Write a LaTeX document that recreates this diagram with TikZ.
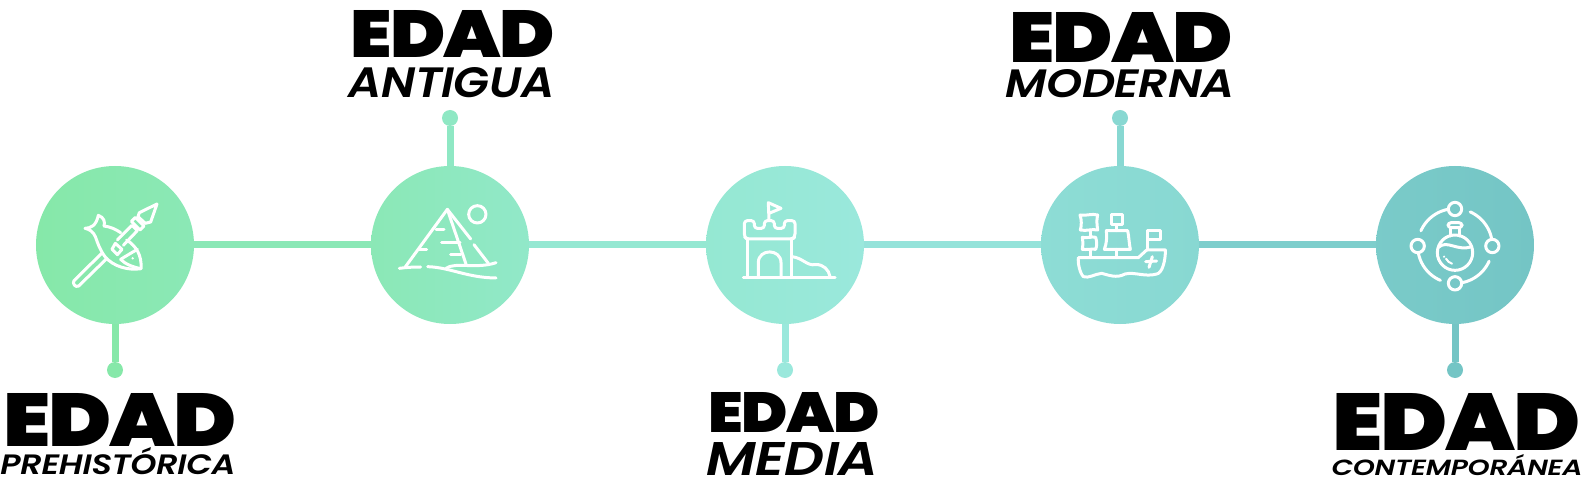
\documentclass[tikz,border=0pt]{standalone}
\usepackage{fontspec}
\usepackage{graphicx}
\setmainfont{Poppins}
\newfontfamily\edadfont{Poppins}[UprightFont=* Black,LetterSpace=-2.5]
\newfontfamily\subfont{Poppins}[UprightFont=* SemiBold Italic,LetterSpace=-1]
\definecolor{ca}{HTML}{86E8A9}\definecolor{cab}{HTML}{8BE8B6}
\definecolor{cb}{HTML}{8FE8C4}\definecolor{cbc}{HTML}{95E8D2}
\definecolor{cc}{HTML}{9AE8DC}\definecolor{ccd}{HTML}{92E0D8}
\definecolor{cd}{HTML}{88D8D2}\definecolor{cde}{HTML}{7ECECC}
\definecolor{ce}{HTML}{74C5C5}
\newcommand\fittxt[6]{\node[fitlabel] (#5) at ({(#1+#3)/2+0.5},{(#2+#4)/2}) {\resizebox{\dimexpr#3bp-#1bp+4bp\relax}{\dimexpr#4bp-#2bp\relax}{#6}};}
\tikzset{
  fitlabel/.style={inner sep=0pt,outer sep=0pt,text=black},
  disc/.style={circle,minimum size=158bp,inner sep=0pt,outer sep=0pt},
  pin/.style={circle,minimum size=16bp,inner sep=0pt,outer sep=0pt},
  link/.style={line width=7bp},
  ico/.style={draw=white,line width=3bp,line cap=round,line join=round},
}
\begin{document}
\begin{tikzpicture}[x=1bp,y=-1bp]
\useasboundingbox (0,0) rectangle (1582,488);
% nodes
\node[disc,left color=ca,right color=cab] (c1) at (115,245) {};
\node[disc,left color=cab,right color=cb!80!cc] (c2) at (450,245) {};
\node[disc,left color=cbc,right color=cc] (c3) at (785,245) {};
\node[disc,left color=cd!70!cc,right color=cd] (c4) at (1120,245) {};
\node[disc,left color=ce!70!cd,right color=ce] (c5) at (1455,245) {};
\node[pin,fill=ca] (p1) at (115,370) {};
\node[pin,fill=cb] (p2) at (450,118) {};
\node[pin,fill=cc] (p3) at (785,370) {};
\node[pin,fill=cd] (p4) at (1120,118) {};
\node[pin,fill=ce] (p5) at (1455,370) {};
% connectors
\draw[link,cab] (c1) -- (c2);
\draw[link,cbc] (c2) -- (c3);
\draw[link,ccd!60!cc] (c3) -- (c4);
\draw[link,cde] (c4) -- (c5);
\draw[link,ca] (c1) -- (p1);
\draw[link,cb] (c2) -- (p2);
\draw[link,cc] (c3) -- (p3);
\draw[link,cd] (c4) -- (p4);
\draw[link,ce] (c5) -- (p5);
% labels
\fittxt{5}{393}{234}{446}{t1a}{\edadfont EDAD}
\fittxt{2}{448}{233}{475}{t1b}{\subfont PREHISTÓRICA}
\fittxt{352}{10}{552}{57}{t2a}{\edadfont EDAD}
\fittxt{350}{68}{552}{98}{t2b}{\subfont ANTIGUA}
\fittxt{710}{392}{877}{432}{t3a}{\edadfont EDAD}
\fittxt{708}{442}{876}{475}{t3b}{\subfont MEDIA}
\fittxt{1011}{12}{1230}{62}{t4a}{\edadfont EDAD}
\fittxt{1007}{70}{1232}{98}{t4b}{\subfont MODERNA}
\fittxt{1334}{393}{1578}{450}{t5a}{\edadfont EDAD}
\fittxt{1333}{455}{1580}{476}{t5b}{\subfont CONTEMPORÁNEA}
% icon 1: fish and spear
\begin{scope}[shift={(30,160)},scale=1/3]
\draw[ico] (215,280) -- (132,362) .. controls (126,370) and (136,384) .. (146,378) -- (230,296);
\draw[ico] (262,240) -- (306,196) -- (322,212) -- (280,256);
\draw[ico] (304,184) -- (316,172) -- (342,198) -- (330,210) -- cycle;
\draw[ico] (328,158) -- (381,132) -- (362,186) -- (346,190) -- (324,170) -- cycle;
\draw[ico] (246,268) -- (256,250) -- (276,268) -- (262,284) -- cycle;
\draw[ico] (222,198) .. controls (240,200) and (258,208) .. (272,218);
\draw[ico] (290,240) .. controls (318,258) and (336,285) .. (333,326) .. controls (295,332) and (250,320) .. (225,290) .. controls (210,270) and (203,250) .. (197,232);
\draw[ico] (197,232) .. controls (190,214) and (178,208) .. (165,205) .. controls (180,204) and (198,200) .. (205,166) .. controls (222,172) and (226,186) .. (222,198);
\draw[ico] (272,298) .. controls (285,290) and (305,278) .. (322,268);
\draw[ico] (272,298) .. controls (285,312) and (310,322) .. (333,326);
\fill[white] (308,295) circle (4);
\end{scope}
% icon 2: pyramid
\begin{scope}[shift={(360,160)},scale=1/3]
\draw[ico] (135,322) -- (262,148) -- (332,237);
\draw[ico] (342,254) -- (385,310);
\draw[ico] (262,148) -- (318,312);
\draw[ico] (228,210) -- (252,210);
\draw[ico] (178,268) -- (200,268);
\draw[ico] (245,247) -- (300,247);
\draw[ico] (272,285) -- (302,285);
\draw[ico] (118,325) .. controls (140,322) and (160,321) .. (182,321);
\draw[ico] (203,320) .. controls (270,322) and (320,353) .. (408,354);
\draw[ico] (258,325) .. controls (285,305) and (350,328) .. (408,308);
\draw[ico] (352,163) circle (26);
\end{scope}
% icon 3: castle
\begin{scope}[shift={(695,160)},scale=1/3]
\draw[ico] (222,180) -- (220,128) -- (258,145) -- (222,160);
\draw[ico,rounded corners=3bp] (155,237) -- (148,230) -- (148,182) -- (178,182) -- (178,205) -- (208,205) -- (208,182) -- (238,182) -- (238,205) -- (268,205) -- (268,182) -- (300,182) -- (300,230) -- (293,237) -- cycle;
\draw[ico] (158,237) -- (158,352);
\draw[ico] (290,237) -- (290,352);
\draw[ico] (190,352) -- (190,308) .. controls (190,265) and (258,265) .. (258,308) -- (258,352);
\draw[ico] (145,352) -- (420,352);
\draw[ico] (292,290) .. controls (325,295) and (335,318) .. (362,314) .. controls (385,312) and (402,330) .. (405,350);
\end{scope}
% icon 4: ship
\begin{scope}[shift={(1025,160)},scale=1/3]
\draw[ico] (160,293) -- (340,293) -- (365,270) -- (421,270) .. controls (422,300) and (412,340) .. (395,342) .. controls (360,352) and (330,335) .. (300,342) .. controls (275,356) and (250,345) .. (230,340) .. controls (210,342) and (190,356) .. (175,350) .. controls (165,340) and (158,310) .. (160,293);
\draw[ico] (195,293) -- (195,270);
\draw[ico] (195,210) -- (195,232);
\draw[ico] (273,293) -- (273,268);
\draw[ico] (273,195) -- (273,212);
\draw[ico] (368,270) -- (368,212) -- (407,212) -- (407,240) -- (368,240);
\draw[ico] (165,165) .. controls (185,168) and (200,160) .. (218,165) .. controls (214,180) and (216,195) .. (218,210) .. controls (200,206) and (185,214) .. (166,210) .. controls (170,195) and (170,180) .. (165,165) -- cycle;
\draw[ico] (172,232) .. controls (185,236) and (200,228) .. (212,232) .. controls (216,245) and (216,258) .. (212,268) .. controls (200,266) and (185,270) .. (172,268) .. controls (174,255) and (174,245) .. (172,232) -- cycle;
\draw[ico] (258,163) -- (292,163) -- (292,193) -- (258,193) -- cycle;
\draw[ico] (244,212) -- (308,212) .. controls (312,230) and (312,250) .. (316,268) -- (238,268) .. controls (245,250) and (246,232) .. (244,212) -- cycle;
\draw[ico] (382,290) -- (372,322);
\draw[ico] (362,305) -- (395,303);
\end{scope}
% icon 5: flask and orbit
\begin{scope}[shift={(1360,160)},scale=1/3]
\draw[ico] plot[domain=204:258,samples=20] ({285+112*cos(\x)},{258+112*sin(\x)});
\draw[ico] plot[domain=294:348,samples=20] ({285+112*cos(\x)},{258+112*sin(\x)});
\draw[ico] plot[domain=24:80,samples=20] ({285+112*cos(\x)},{258+112*sin(\x)});
\draw[ico] plot[domain=113:169,samples=20] ({285+112*cos(\x)},{258+112*sin(\x)});
\draw[ico] (285,147) circle (20);
\draw[ico] (397,258) circle (20);
\draw[ico] (173,258) circle (20);
\draw[ico] (285,370) circle (20);
\draw[ico] (285,278) circle (53);
\draw[ico] (271,203) -- (271,228);
\draw[ico] (299,203) -- (299,228);
\draw[ico,rounded corners=3bp] (264,188) rectangle (306,203);
\draw[ico] (235,262) .. controls (262,238) and (290,275) .. (335,260);
\draw[ico,line width=2bp] (258,296) .. controls (262,304) and (268,308) .. (276,311);
\fill[white] (252,290) circle (3.5);
\end{scope}
\end{tikzpicture}
\end{document}
